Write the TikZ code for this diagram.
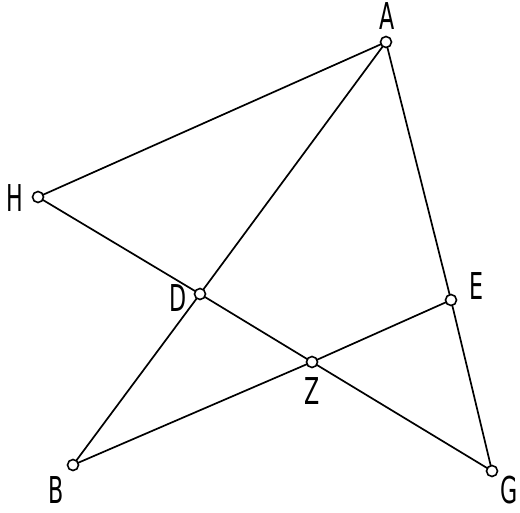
\documentclass[tikz,border=0pt]{standalone}
\usepackage{fontspec}
\newfontfamily\lblfont[FakeStretch=0.6]{DejaVu Sans}
\begin{document}
\begin{tikzpicture}[x=1pt,y=-1pt,
  pt/.style={circle,draw,line width=1.6pt,fill=white,minimum size=11pt,inner sep=0pt},
  lbl/.style={font=\lblfont\fontsize{37}{37}\selectfont,inner sep=0pt},
  seg/.style={line width=1.7pt}]
\useasboundingbox (0,0) rectangle (520,512);
\coordinate (A) at (386,42);
\coordinate (H) at (38,197);
\coordinate (D) at (200,294);
\coordinate (Z) at (312,362);
\coordinate (E) at (451,300);
\coordinate (B) at (73,465);
\coordinate (G) at (492,471);
\draw[seg] (A) -- (H);
\draw[seg] (A) -- (D) -- (B);
\draw[seg] (A) -- (E) -- (G);
\draw[seg] (H) -- (D) -- (Z) -- (G);
\draw[seg] (B) -- (Z) -- (E);
\foreach \p in {A,H,D,Z,E,B,G} \node[pt] (n\p) at (\p) {};
\node[lbl] (lA) at (387,16) {A};
\node[lbl] (lH) at (15,198) {H};
\node[lbl] (lD) at (178,298) {D};
\node[lbl] (lZ) at (312,391) {Z};
\node[lbl] (lE) at (477,286) {E};
\node[lbl] (lB) at (56,490) {B};
\node[lbl,anchor=east] (lG) at (518,490) {G};
\end{tikzpicture}
\end{document}
